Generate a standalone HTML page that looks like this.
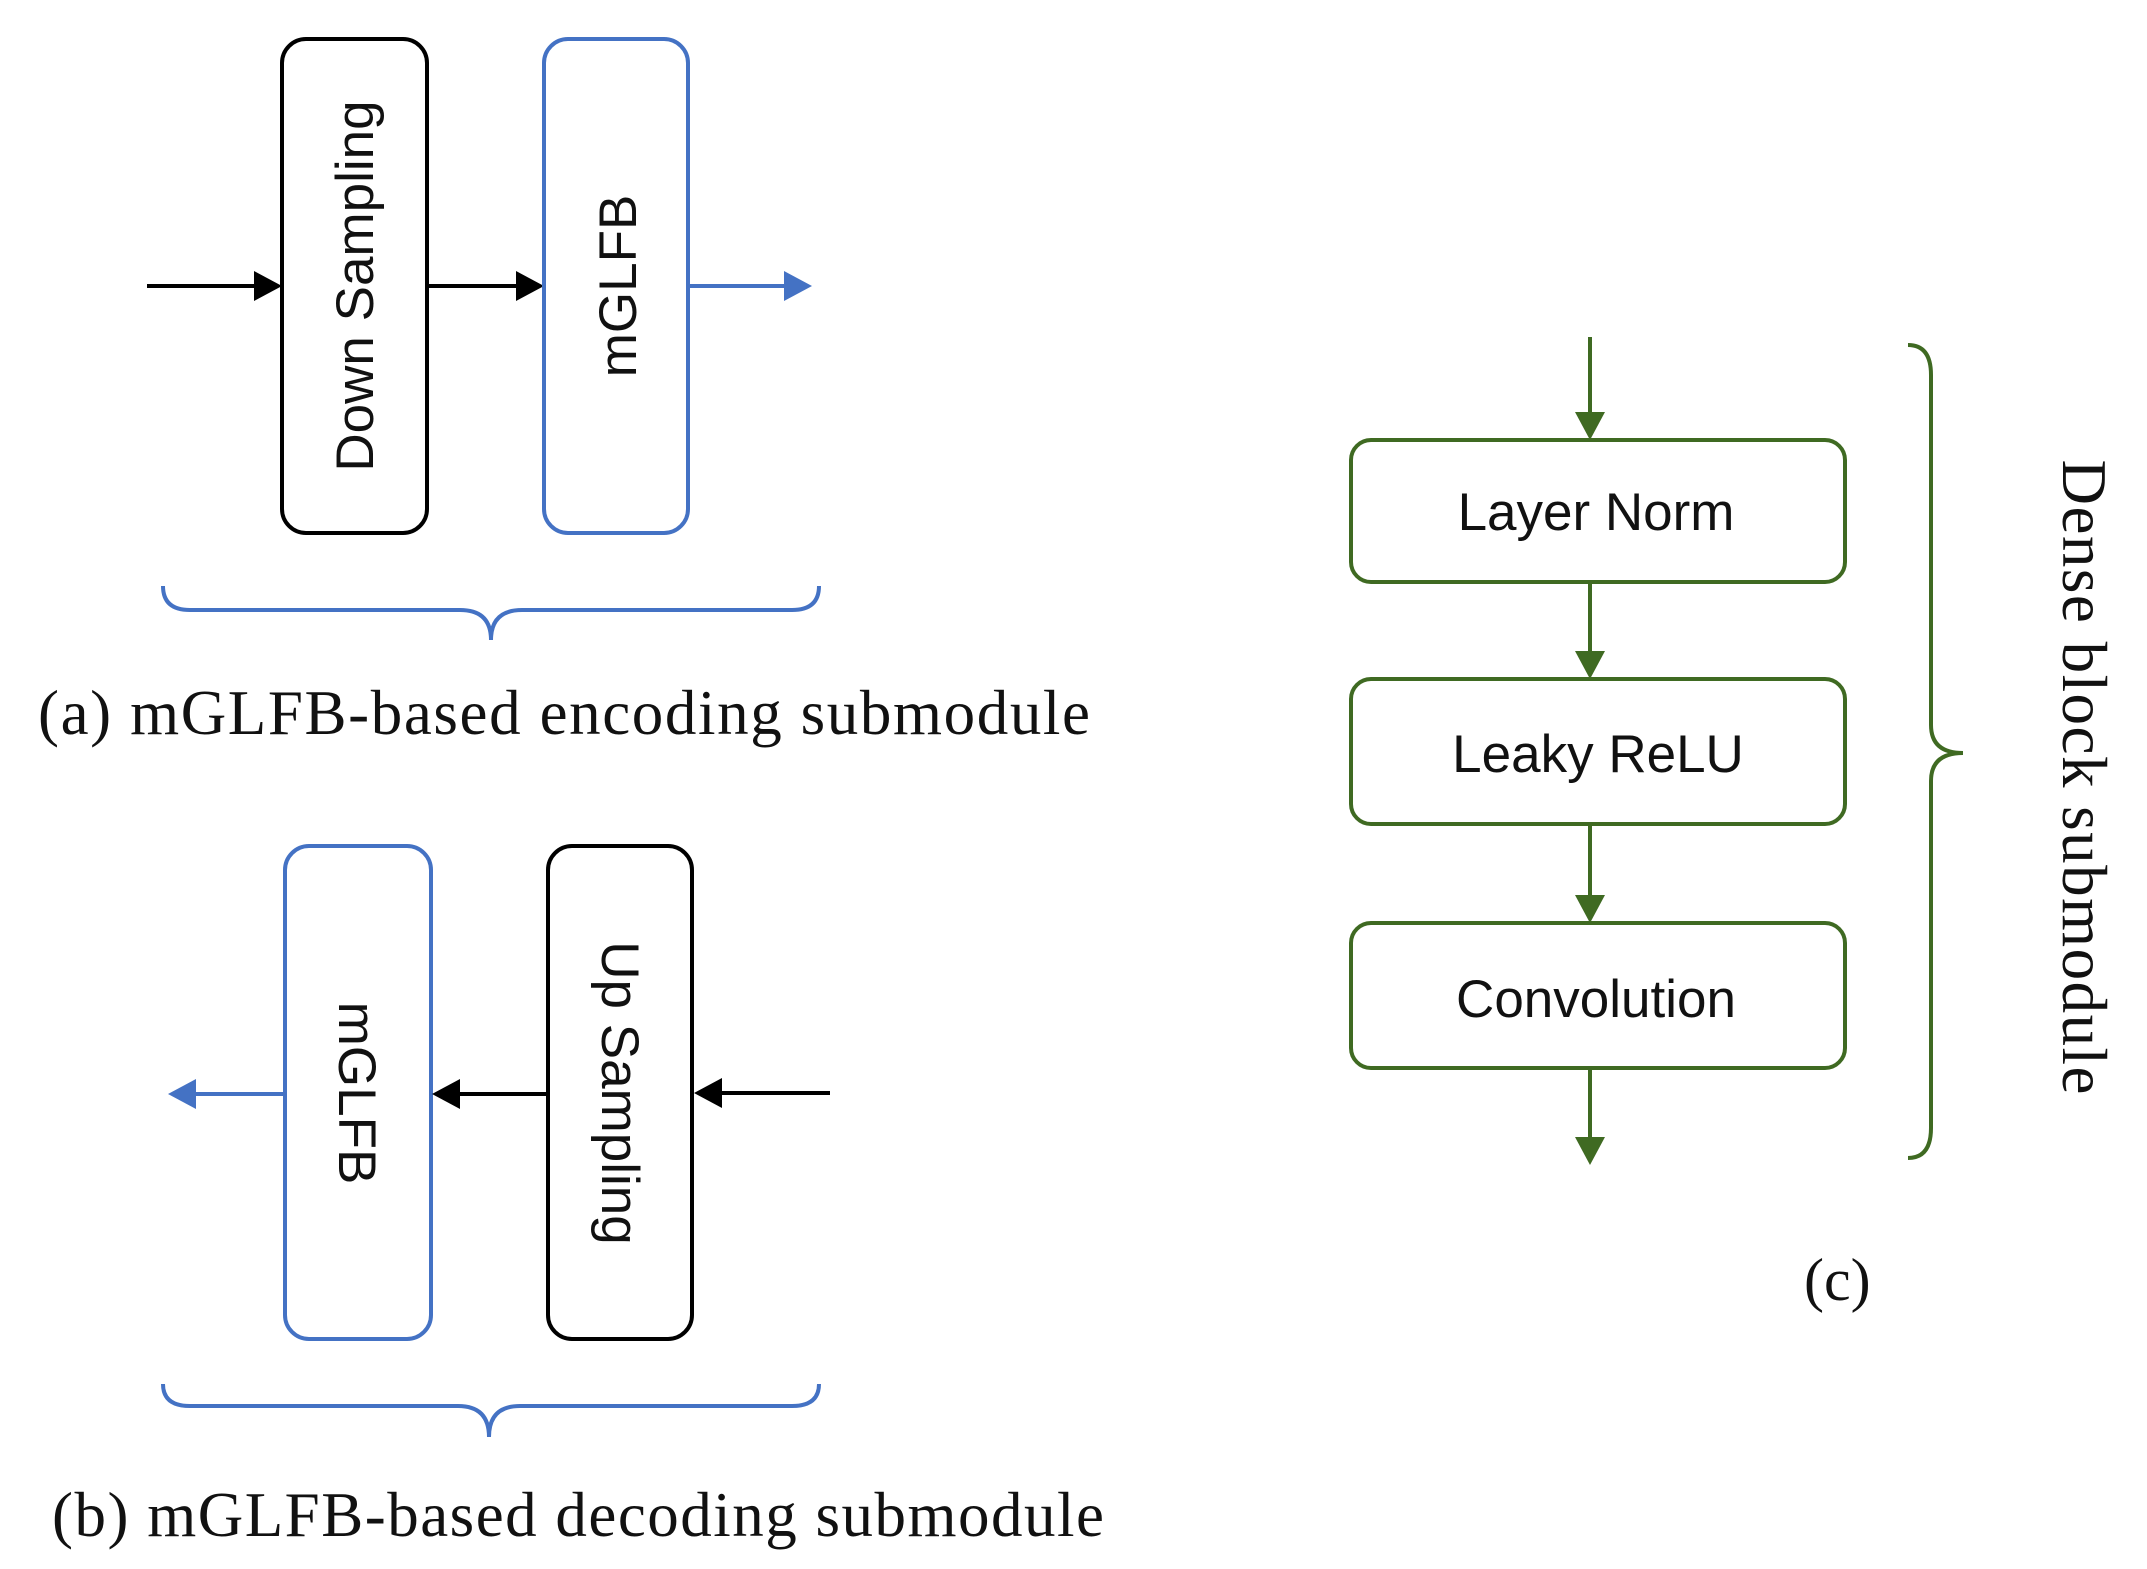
<!DOCTYPE html>
<html><head><style>html,body{margin:0;padding:0;background:#fff;}svg{display:block}</style></head>
<body>
<svg width="2147" height="1569" viewBox="0 0 2147 1569" xmlns="http://www.w3.org/2000/svg">
<g font-family="'Liberation Sans', 'DejaVu Sans', sans-serif" font-size="48" fill="#111">
<!-- (a) -->
<line x1="147" y1="286" x2="258" y2="286" stroke="#000" stroke-width="4"/>
<polygon points="282,286 254,271 254,301" fill="#000"/>
<rect x="282" y="39" width="145" height="494" rx="24" fill="none" stroke="#000" stroke-width="4"/>
<text transform="translate(373,286) rotate(-90)" text-anchor="middle" font-size="53">Down Sampling</text>
<line x1="427" y1="286" x2="520" y2="286" stroke="#000" stroke-width="4"/>
<polygon points="544,286 516,271 516,301" fill="#000"/>
<rect x="544" y="39" width="144" height="494" rx="24" fill="none" stroke="#4472c4" stroke-width="4"/>
<text transform="translate(636,286) rotate(-90)" text-anchor="middle" font-size="53">mGLFB</text>
<line x1="688" y1="286" x2="788" y2="286" stroke="#4472c4" stroke-width="4"/>
<polygon points="812,286 784,271 784,301" fill="#4472c4"/>
<path d="M163,586 Q163,610 190,610 L460,610 Q491,610 491,640 Q491,610 522,610 L792,610 Q819,610 819,586" fill="none" stroke="#4472c4" stroke-width="4"/>
<text x="38" y="734" font-family="'Liberation Serif', serif" font-size="63" textLength="1052">(a) mGLFB-based encoding submodule</text>

<!-- (b) -->
<rect x="285" y="846" width="146" height="493" rx="24" fill="none" stroke="#4472c4" stroke-width="4"/>
<text transform="translate(339,1093) rotate(90)" text-anchor="middle" font-size="53">mGLFB</text>
<rect x="548" y="846" width="144" height="493" rx="24" fill="none" stroke="#000" stroke-width="4"/>
<text transform="translate(602,1093) rotate(90)" text-anchor="middle" font-size="53">Up Sampling</text>
<line x1="830" y1="1093" x2="718" y2="1093" stroke="#000" stroke-width="4"/>
<polygon points="694,1093 722,1078 722,1108" fill="#000"/>
<line x1="548" y1="1094" x2="456" y2="1094" stroke="#000" stroke-width="4"/>
<polygon points="432,1094 460,1079 460,1109" fill="#000"/>
<line x1="285" y1="1094" x2="192" y2="1094" stroke="#4472c4" stroke-width="4"/>
<polygon points="168,1094 196,1079 196,1109" fill="#4472c4"/>
<path d="M163,1384 Q163,1406 190,1406 L458,1406 Q489,1406 489,1437 Q489,1406 520,1406 L792,1406 Q819,1406 819,1384" fill="none" stroke="#4472c4" stroke-width="4"/>
<text x="52" y="1536" font-family="'Liberation Serif', serif" font-size="63" textLength="1052">(b) mGLFB-based decoding submodule</text>

<!-- (c) -->
<g stroke="#3f6a22" stroke-width="4" fill="none">
<line x1="1590" y1="337" x2="1590" y2="416"/>
<line x1="1590" y1="582" x2="1590" y2="654"/>
<line x1="1590" y1="824" x2="1590" y2="899"/>
<line x1="1590" y1="1068" x2="1590" y2="1141"/>
<rect x="1351" y="440" width="494" height="142" rx="20"/>
<rect x="1351" y="679" width="494" height="145" rx="20"/>
<rect x="1351" y="923" width="494" height="145" rx="20"/>
<path d="M1908,345 Q1931,345 1931,375 L1931,725 Q1931,753 1963,753 Q1931,753 1931,781 L1931,1128 Q1931,1158 1908,1158"/>
</g>
<g fill="#3f6a22">
<polygon points="1590,440 1575,412 1605,412"/>
<polygon points="1590,679 1575,651 1605,651"/>
<polygon points="1590,923 1575,895 1605,895"/>
<polygon points="1590,1165 1575,1137 1605,1137"/>
</g>
<text x="1596" y="530" text-anchor="middle" font-size="53">Layer Norm</text>
<text x="1598" y="772" text-anchor="middle" font-size="53">Leaky ReLU</text>
<text x="1596" y="1017" text-anchor="middle" font-size="53">Convolution</text>
<text transform="translate(2063,777) rotate(90)" text-anchor="middle" font-family="'Liberation Serif', serif" font-size="63" textLength="635">Dense block submodule</text>
<text x="1804" y="1300" font-family="'Liberation Serif', serif" font-size="60">(c)</text>
</g>
</svg>
</body></html>
